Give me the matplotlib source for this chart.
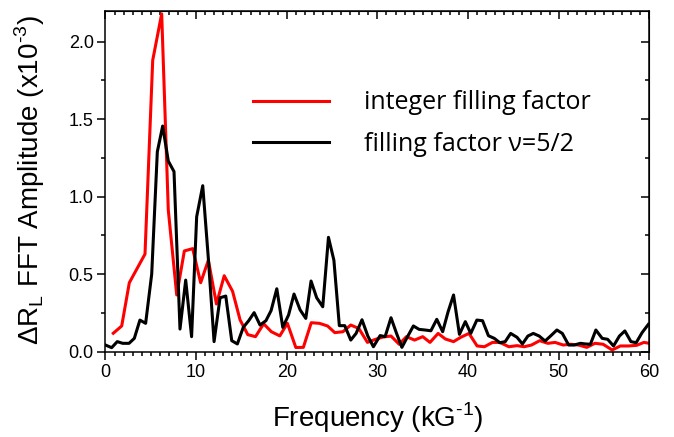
import numpy as np
import matplotlib
matplotlib.use('Agg')
import matplotlib.pyplot as plt
from matplotlib.ticker import MultipleLocator

plt.rcParams['font.family'] = ['Liberation Sans', 'DejaVu Sans']
plt.rcParams['mathtext.fontset'] = 'custom'
plt.rcParams['mathtext.rm'] = 'Liberation Sans'
plt.rcParams['axes.unicode_minus'] = False

# integer filling factor (red)
f_int = [0.86, 1.79, 2.63, 4.36, 5.21, 6.20, 6.93, 7.86, 8.70, 9.62, 10.5, 11.35,
         12.24, 13.1, 14.02, 14.85, 15.7, 16.55, 17.45, 18.3, 19.23, 20.07, 21.0,
         21.83, 22.7, 23.6, 24.5, 25.3, 26.2, 27.06, 27.95, 28.9, 29.8, 30.65, 31.5,
         32.4, 33.2, 34.1, 35.0, 35.8, 36.7, 37.5, 38.4, 39.2, 40.1, 41.0, 41.8,
         42.7, 43.5, 44.5, 45.4, 46.2, 47.0, 47.9, 48.8, 49.6, 50.5, 51.3, 52.2,
         53.1, 54.0, 54.9, 55.9, 56.8, 57.7, 58.6, 59.4, 60.0]
a_int = [0.119, 0.166, 0.445, 0.63, 1.88, 2.18, 0.914, 0.366, 0.65, 0.665, 0.445, 0.59,
         0.308, 0.49, 0.39, 0.205, 0.11, 0.097, 0.18, 0.129, 0.102, 0.183, 0.027,
         0.028, 0.187, 0.183, 0.166, 0.123, 0.129, 0.172, 0.15, 0.06, 0.08, 0.095, 0.101,
         0.048, 0.097, 0.075, 0.097, 0.06, 0.118, 0.082, 0.065, 0.093, 0.118, 0.037, 0.032,
         0.06, 0.06, 0.032, 0.039, 0.032, 0.043, 0.071, 0.054, 0.06, 0.043, 0.048, 0.043,
         0.028, 0.054, 0.048, 0.011, 0.037, 0.037, 0.041, 0.06, 0.054]

# filling factor nu=5/2 (black)
f_52 = [0.0, 0.68, 1.3, 1.9, 2.6, 3.18, 3.8, 4.43, 5.1, 5.72, 6.31, 6.93, 7.56,
        8.22, 8.85, 9.5, 10.06, 10.73, 11.35, 11.98, 12.64, 13.27, 13.93, 14.55,
        15.2, 15.8, 16.4, 17.05, 17.7, 18.27, 18.9, 19.56, 20.2, 20.8, 21.47, 22.1,
        22.68, 23.3, 23.97, 24.6, 25.2, 25.8, 26.4, 27.06, 27.65, 28.3, 28.95, 29.56,
        30.3, 30.85, 31.5, 32.1, 32.7, 33.35, 33.97, 34.6, 35.25, 35.9, 36.55, 37.2,
        37.8, 38.4, 39.05, 39.7, 40.3, 40.97, 41.6, 42.25, 42.9, 43.5, 44.1, 44.7,
        45.4, 46.0, 46.6, 47.2, 47.85, 48.5, 49.1, 49.8, 50.4, 51.1, 51.7, 52.4,
        52.95, 53.5, 54.1, 54.8, 55.4, 56.05, 56.7, 57.3, 57.97, 58.55, 59.2, 59.9]
a_52 = [0.043, 0.026, 0.065, 0.054, 0.054, 0.086, 0.204, 0.183, 0.501, 1.29, 1.456, 1.23, 1.162,
        0.146, 0.462, 0.097, 0.871, 1.071, 0.6, 0.065, 0.348, 0.359, 0.071, 0.05,
        0.157, 0.2, 0.252, 0.172, 0.2, 0.265, 0.406, 0.157, 0.237, 0.372, 0.27, 0.215,
        0.456, 0.348, 0.29, 0.738, 0.59, 0.168, 0.168, 0.075, 0.118, 0.206, 0.1, 0.032,
        0.104, 0.097, 0.219, 0.12, 0.028, 0.1, 0.166, 0.144, 0.14, 0.135, 0.209, 0.129,
        0.258, 0.366, 0.112, 0.194, 0.118, 0.204, 0.2, 0.103, 0.086, 0.058, 0.065, 0.118,
        0.093, 0.05, 0.101, 0.118, 0.101, 0.069, 0.101, 0.14, 0.118, 0.043, 0.043, 0.054,
        0.05, 0.048, 0.14, 0.086, 0.08, 0.037, 0.101, 0.134, 0.065, 0.058, 0.123, 0.177]

fig = plt.figure(figsize=(6.74, 4.37), dpi=100)
ax = fig.add_axes([0.1565, 0.1952, 0.8069, 0.7803])
ax.plot(f_int, a_int, color='#ff0000', linewidth=2.2, label='integer filling factor')
ax.plot(f_52, a_52, color='black', linewidth=2.2, label='filling factor \u03bd=5/2')

ax.set_xlim(0, 60)
ax.set_ylim(0, 2.2)
ax.xaxis.set_major_locator(MultipleLocator(10))
ax.xaxis.set_minor_locator(MultipleLocator(1))
ax.yaxis.set_major_locator(MultipleLocator(0.5))
ax.yaxis.set_minor_locator(MultipleLocator(0.25))
ax.yaxis.set_major_formatter(matplotlib.ticker.FormatStrFormatter('%.1f'))
for s in ax.spines.values():
    s.set_linewidth(1.1)
ax.tick_params(which='major', direction='out', length=5.5, width=1.1, labelsize=13, pad=3)
ax.tick_params(which='minor', direction='out', length=2.6, width=1.1)

top = ax.secondary_xaxis('top')
top.xaxis.set_major_locator(MultipleLocator(10))
top.xaxis.set_minor_locator(MultipleLocator(1))
top.tick_params(which='major', direction='in', length=5.5, width=1.1, labeltop=False)
top.tick_params(which='minor', direction='in', length=2.6, width=1.1)
right = ax.secondary_yaxis('right')
right.yaxis.set_major_locator(MultipleLocator(0.5))
right.yaxis.set_minor_locator(MultipleLocator(0.25))
right.tick_params(which='major', direction='in', length=5.5, width=1.1, labelright=False)
right.tick_params(which='minor', direction='in', length=2.6, width=1.1)

ax.set_xlabel('Frequency (kG$^\\mathregular{\\text{-}1}$)', fontsize=20, labelpad=14.5)
ax.set_ylabel('\u0394R$_\\mathregular{L}$ FFT Amplitude (x10$^\\mathregular{\\text{-}3}$)',
              fontsize=20)
ax.yaxis.set_label_coords(-0.1076, 0.503)

ax.legend(loc='center left', bbox_to_anchor=(0.249, 0.669), frameon=False,
          prop={'family': ['Open Sans', 'DejaVu Sans'], 'size': 18},
          handlelength=3.04, handletextpad=1.4, labelspacing=0.66, borderpad=0)

fig.savefig('out.png', dpi=100)
